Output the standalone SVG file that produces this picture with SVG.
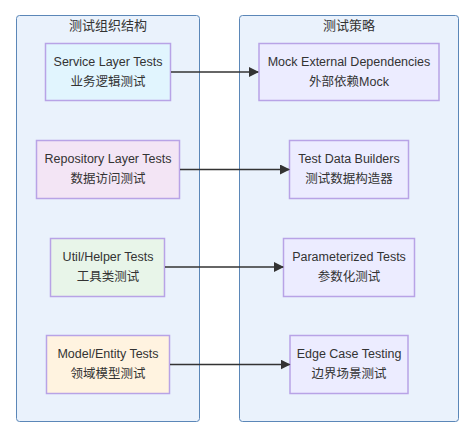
<svg xmlns="http://www.w3.org/2000/svg" width="475" height="432" viewBox="0 0 475 432">
<defs>
<marker id="arrow" viewBox="0 0 10 10" refX="9" refY="5" markerUnits="userSpaceOnUse" markerWidth="10" markerHeight="10" orient="auto">
<path d="M0,0 L10,5 L0,10 z" fill="#333333"/>
</marker>
</defs>
<style>
.cluster{fill:#eaf2fc;stroke:#5b87b8;stroke-width:1}
.node rect{stroke:#b8a3e6;stroke-width:1.5}
.t{font-family:"Liberation Sans","Noto Sans CJK SC",sans-serif;font-size:12.5px;fill:#333333;text-anchor:middle}
.title{font-family:"Liberation Sans","Noto Sans CJK SC",sans-serif;font-size:13px;fill:#333333;text-anchor:middle}
.edge{stroke:#333333;stroke-width:1.6;fill:none}
</style>
<rect width="475" height="432" fill="#ffffff"/>
<g id="cluster-left">
<rect class="cluster" x="16.5" y="15.5" width="183" height="406" rx="3"/>
<text class="title" x="108" y="29.5">测试组织结构</text>
</g>
<g id="cluster-right">
<rect class="cluster" x="239.5" y="15.5" width="219" height="406" rx="3"/>
<text class="title" x="349" y="29.5">测试策略</text>
</g>
<g id="node-service" class="node">
<rect x="45.5" y="43.5" width="125" height="57" fill="#e1f5fe"/>
<text class="t" x="108" y="65.5">Service Layer Tests</text>
<text class="t" x="108" y="85.5">业务逻辑测试</text>
</g>
<g id="node-repository" class="node">
<rect x="36.5" y="140.5" width="143" height="58" fill="#f3e5f5"/>
<text class="t" x="108" y="163">Repository Layer Tests</text>
<text class="t" x="108" y="183">数据访问测试</text>
</g>
<g id="node-util" class="node">
<rect x="50.5" y="238.5" width="114" height="58" fill="#e8f5e9"/>
<text class="t" x="108" y="260.5">Util/Helper Tests</text>
<text class="t" x="108" y="280.5">工具类测试</text>
</g>
<g id="node-model" class="node">
<rect x="46.5" y="335.5" width="123" height="58" fill="#fff3e0"/>
<text class="t" x="108" y="358">Model/Entity Tests</text>
<text class="t" x="108" y="378">领域模型测试</text>
</g>
<g id="node-mock" class="node">
<rect x="259" y="43.5" width="180" height="57" fill="#ececff"/>
<text class="t" x="349" y="65.5">Mock External Dependencies</text>
<text class="t" x="349" y="85.5">外部依赖Mock</text>
</g>
<g id="node-builders" class="node">
<rect x="289.5" y="140.5" width="119" height="58" fill="#ececff"/>
<text class="t" x="349" y="163">Test Data Builders</text>
<text class="t" x="349" y="183">测试数据构造器</text>
</g>
<g id="node-param" class="node">
<rect x="283.5" y="238.5" width="131" height="58" fill="#ececff"/>
<text class="t" x="349" y="260.5">Parameterized Tests</text>
<text class="t" x="349" y="280.5">参数化测试</text>
</g>
<g id="node-edge" class="node">
<rect x="290" y="335.5" width="118" height="58" fill="#ececff"/>
<text class="t" x="349" y="358">Edge Case Testing</text>
<text class="t" x="349" y="378">边界场景测试</text>
</g>
<g id="connectors">
<line class="edge" x1="171" y1="72" x2="258" y2="72" marker-end="url(#arrow)"/>
<line class="edge" x1="180" y1="169.5" x2="289" y2="169.5" marker-end="url(#arrow)"/>
<line class="edge" x1="165" y1="267" x2="283" y2="267" marker-end="url(#arrow)"/>
<line class="edge" x1="170" y1="364.5" x2="289.5" y2="364.5" marker-end="url(#arrow)"/>
</g>
</svg>
